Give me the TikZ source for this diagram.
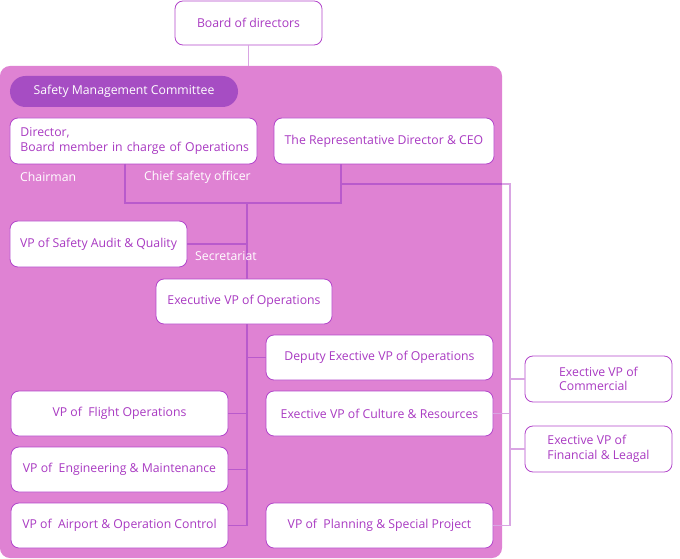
\documentclass[tikz,border=0pt]{standalone}
\usepackage{fontspec}
\setmainfont{Open Sans}
\definecolor{bgc}{HTML}{DF82D3}
\definecolor{boxc}{HTML}{B347CB}
\definecolor{txtc}{HTML}{A93AC2}
\definecolor{comc}{HTML}{A64DC3}
\definecolor{linec}{HTML}{B95ACC}
\definecolor{outc}{HTML}{D9A5E3}
\tikzset{
  box/.style={draw=boxc, fill=white, rounded corners=8, line width=0.8bp, text=txtc, font=\fontsize{12.3}{14.5}\selectfont, inner sep=2bp},
  conn/.style={draw=linec, line width=1.2bp},
  outconn/.style={draw=outc, line width=1.2bp},
  lbl/.style={text=white, font=\fontsize{12.3}{14.5}\selectfont, anchor=west, inner sep=0pt}
}
\begin{document}
\begin{tikzpicture}[x=1bp,y=-1bp]
\useasboundingbox (0,0) rectangle (680,559);
\fill[bgc, rounded corners=10] (0,66) rectangle (502,558);
% nodes
\node[box, minimum width=147bp, minimum height=44bp] (board) at (248.5,23) {Board of directors};
\node[fill=comc, rounded corners=15.5bp, minimum width=228bp, minimum height=31bp, text=white, font=\fontsize{12.3}{14.5}\selectfont] (smc) at (124,91.5) {Safety Management Committee};
\node[box, minimum width=247bp, minimum height=46bp, text width=226bp, align=left, inner xsep=10.5bp] (dir) at (133.5,141) {Director,\\\mbox{Board member in charge of Operations}};
\node[box, minimum width=220bp, minimum height=46bp] (ceo) at (384,141) {The Representative Director \& CEO};
\node[box, minimum width=177bp, minimum height=46bp] (audit) at (98.5,244) {VP of Safety Audit \& Quality};
\node[box, minimum width=176bp, minimum height=45bp] (execops) at (244,301.5) {Executive VP of Operations};
\node[box, minimum width=227bp, minimum height=45bp] (deputy) at (379.5,357.5) {Deputy Exective VP of Operations};
\node[box, minimum width=227bp, minimum height=45bp] (culture) at (379.5,413.5) {Exective VP of Culture \& Resources};
\node[box, minimum width=227bp, minimum height=45bp] (planning) at (379.5,525.5) {VP of\ \ Planning \& Special Project};
\node[box, minimum width=217bp, minimum height=45bp] (flight) at (119.5,413.5) {VP of\ \ Flight Operations};
\node[box, minimum width=217bp, minimum height=45bp] (eng) at (119.5,469.5) {VP of\ \ Engineering \& Maintenance};
\node[box, minimum width=217bp, minimum height=45bp] (airport) at (119.5,525.5) {VP of\ \ Airport \& Operation Control};
\node[box, minimum width=147bp, minimum height=46bp, align=left] (comm) at (598.5,379) {Exective VP of\\Commercial};
\node[box, minimum width=147bp, minimum height=46bp, align=left] (fin) at (598.5,449) {Exective VP of\\Financial \& Leagal};
% coordinates
\coordinate (bgtop) at (248.5,66);
\coordinate (dirdrop) at (125,164);
\coordinate (dj1) at (125,203);
\coordinate (ceodrop) at (341,164);
\coordinate (dj2) at (341,203);
\coordinate (mid) at (247,203);
\coordinate (ceobr) at (341,184);
\coordinate (rtop) at (510,184);
\coordinate (rbot) at (510,525.5);
\coordinate (sbr) at (247,244);
\coordinate (vtop) at (247,324);
\coordinate (vbot) at (247,525.5);
% connectors
\draw[outconn] (board.south) -- (bgtop);
\draw[conn] (dirdrop) -- (dj1) -- (dj2) -- (ceodrop);
\draw[conn] (mid) -- (mid |- execops.north);
\draw[conn] (audit.east) -- (sbr);
\draw[conn] (execops.south -| vtop) -- (vbot) -- (airport.east);
\draw[conn] (deputy.west) -- (deputy.west -| vtop);
\draw[conn] (flight.east) -- (flight.east -| vtop);
\draw[conn] (eng.east) -- (eng.east -| vtop);
\draw[conn] (ceobr) -- (502,184);
\draw[outconn] (502,184) -- (rtop) -- (rbot) -- (planning.east);
\draw[outconn] (culture.east) -- (culture.east -| rtop);
\draw[outconn] (comm.west) -- (comm.west -| rtop);
\draw[outconn] (fin.west) -- (fin.west -| rtop);
% labels
\node[lbl] (chair) at (20,177) {Chairman};
\node[lbl] (cso) at (144,177) {Chief safety officer};
\node[lbl] (sec) at (195,256) {Secretariat};
\end{tikzpicture}
\end{document}
